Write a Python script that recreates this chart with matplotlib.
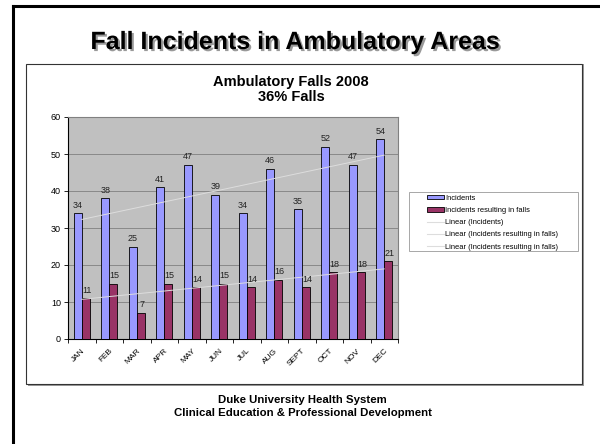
import matplotlib
matplotlib.use("Agg")
import matplotlib.pyplot as plt
import numpy as np
from matplotlib.patches import Rectangle, Patch
from matplotlib.lines import Line2D
import matplotlib.patheffects as pe

plt.rcParams['font.family'] = ['Liberation Sans', 'DejaVu Sans']

months = ["JAN", "FEB", "MAR", "APR", "MAY", "JUN", "JUL", "AUG", "SEPT", "OCT", "NOV", "DEC"]
incidents = [34, 38, 25, 41, 47, 39, 34, 46, 35, 52, 47, 54]
falls = [11, 15, 7, 15, 14, 15, 14, 16, 14, 18, 18, 21]
yticks = [0, 10, 20, 30, 40, 50, 60]

W, H = 600, 444
fig = plt.figure(figsize=(6, 4.44), dpi=100)
fig.patch.set_facecolor("white")

def fx(x): return x / W
def fy(y): return 1 - y / H

# outer slide border (left and top)
fig.add_artist(Line2D([fx(13), fx(13)], [fy(6), 0], color="black", lw=2.2, transform=fig.transFigure))
fig.add_artist(Line2D([fx(13), 1], [fy(6), fy(6)], color="black", lw=2.2, transform=fig.transFigure))

# chart box with shadow
fig.add_artist(Rectangle((fx(28), fy(386)), fx(584 - 28), (386 - 64) / H, transform=fig.transFigure,
                         facecolor="#999999", edgecolor="none", zorder=0))
fig.add_artist(Rectangle((fx(26), fy(384)), fx(584 - 26) - fx(2), (384 - 64) / H, transform=fig.transFigure,
                         facecolor="white", edgecolor="#333333", lw=0.8, zorder=0.5))

# slide title with shadow
fig.text(fx(295), fy(42), "Fall Incidents in Ambulatory Areas", ha="center", va="center",
         fontsize=18, fontweight="bold", color="black",
         path_effects=[pe.withSimplePatchShadow(offset=(1.5, -1.5), shadow_rgbFace="#808080", alpha=0.8)])

# chart title
fig.text(fx(291), fy(89.5), "Ambulatory Falls 2008\n36% Falls", ha="center", va="center",
         fontsize=10.5, fontweight="bold", linespacing=1.15)

ax = fig.add_axes([fx(68), fy(339), fx(398 - 68), (339 - 117) / H])
ax.set_zorder(2)
ax.set_facecolor("#C0C0C0")
x = np.arange(len(months))
w = 0.29
ax.bar(x - w / 2, incidents, w, color="#9999FF", edgecolor="black", lw=0.6, zorder=3)
ax.bar(x + w / 2, falls, w, color="#993366", edgecolor="black", lw=0.6, zorder=3)
for xi, v in zip(x, incidents):
    ax.text(xi - w / 2, v + 1.0, str(v), ha="center", va="bottom", fontsize=6.5, color="#222222", zorder=5)
for xi, v in zip(x, falls):
    ax.text(xi + w / 2 + 0.05, v + 1.0, str(v), ha="center", va="bottom", fontsize=6.5, color="#222222", zorder=5)

p1 = np.polyfit(x, incidents, 1)
p2 = np.polyfit(x, falls, 1)
ax.plot(x, np.polyval(p1, x), color="#DDDDDD", lw=0.7, zorder=4)
ax.plot(x, np.polyval(p2, x), color="#DDDDDD", lw=0.7, zorder=4)

ax.set_xlim(-0.5, len(months) - 0.5)
ax.set_ylim(0, 60)
ax.set_yticks(yticks)
ax.set_yticklabels([str(t) for t in yticks], fontsize=6.5)
ax.yaxis.grid(True, color="#808080", lw=0.6, zorder=1)
ax.set_axisbelow(True)
ax.set_xticks(np.arange(len(months) + 1) - 0.5, minor=False)
ax.set_xticklabels([])
ax.set_xticks(x, minor=True)
ax.set_xticklabels(months, minor=True, rotation=45, ha="right", va="top", fontsize=6, rotation_mode="anchor")
ax.tick_params(axis="x", which="major", length=3, width=0.6)
ax.tick_params(axis="x", which="minor", length=0, pad=6)
ax.tick_params(axis="y", length=3, width=0.6, pad=2)
for s in ["top", "right"]:
    ax.spines[s].set_color("#808080")
    ax.spines[s].set_linewidth(0.8)
for s in ["left", "bottom"]:
    ax.spines[s].set_color("black")
    ax.spines[s].set_linewidth(0.8)

# legend box
fig.add_artist(Rectangle((fx(409), fy(251)), fx(578 - 409), (251 - 192) / H, transform=fig.transFigure,
                         facecolor="white", edgecolor="#999999", lw=0.6, zorder=3))
handles = [Patch(facecolor="#9999FF", edgecolor="black", lw=0.6),
           Patch(facecolor="#993366", edgecolor="black", lw=0.6),
           Line2D([], [], color="#DDDDDD", lw=0.8),
           Line2D([], [], color="#DDDDDD", lw=0.8),
           Line2D([], [], color="#DDDDDD", lw=0.8)]
labels = ["Incidents", "Incidents resulting in falls", "Linear (Incidents)",
          "Linear (Incidents resulting in falls)", "Linear (Incidents resulting in falls)"]
leg = fig.legend(handles, labels, loc="upper left", bbox_to_anchor=(fx(427), fy(194.5)),
                 fontsize=5.4, frameon=False,
                 handlelength=2.3, handleheight=0.6, handletextpad=0.15, labelspacing=0.7,
                 borderpad=0.0, borderaxespad=0)
leg.set_zorder(4)

# footer
fig.text(fx(302.5), fy(400), "Duke University Health System", ha="center", va="center",
         fontsize=8.2, fontweight="bold")
fig.text(fx(302.5), fy(413), "Clinical Education & Professional Development", ha="center", va="center",
         fontsize=8.2, fontweight="bold")

fig.savefig("out.png", dpi=100)
